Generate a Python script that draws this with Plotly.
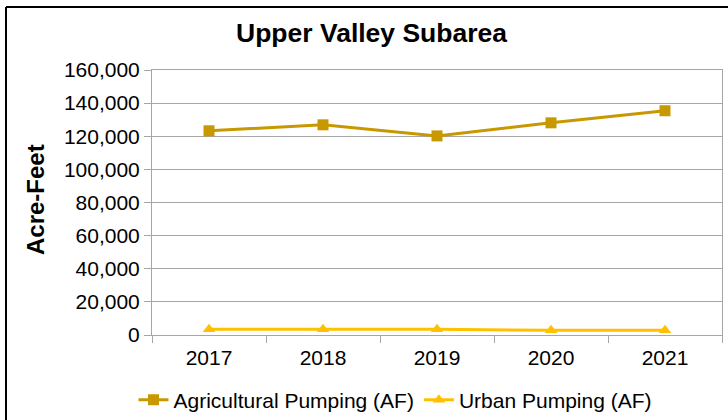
import plotly.graph_objects as go

years = ["2017", "2018", "2019", "2020", "2021"]
ag_pumping = [123300, 126900, 120200, 128100, 135400]
urban_pumping = [3500, 3500, 3400, 2900, 2900]
y_ticks = [0, 20000, 40000, 60000, 80000, 100000, 120000, 140000, 160000]

AG_COLOR = "#C89800"
URB_COLOR = "#FFC000"
GRID = "#A6A6A6"
FONT = "Liberation Sans, Arial, sans-serif"

fig = go.Figure()
fig.add_trace(go.Scatter(
    x=years, y=ag_pumping, name="Agricultural Pumping (AF)", mode="lines+markers",
    line=dict(color=AG_COLOR, width=3),
    marker=dict(symbol="square", size=11, color=AG_COLOR),
))
fig.add_trace(go.Scatter(
    x=years, y=urban_pumping, name="Urban Pumping (AF)", mode="lines+markers",
    line=dict(color=URB_COLOR, width=3),
    marker=dict(symbol="triangle-up", size=11, color=URB_COLOR),
))

W, H = 728, 420
L, R, T, B = 152, 6, 70, 85
pw, ph = W - L - R, H - T - B

def px_x(p):
    return (p - L) / pw

def px_y(p):
    return (H - B - p) / ph

fig.update_layout(
    width=W, height=H,
    margin=dict(l=L, r=R, t=T, b=B, autoexpand=False),
    paper_bgcolor="white", plot_bgcolor="white",
    font=dict(family=FONT, size=21, color="black"),
    showlegend=True,
    legend=dict(orientation="h", xref="container", yref="container",
                x=395 / W, xanchor="center", y=1 - 400 / H, yanchor="middle",
                font=dict(size=21), tracegroupgap=0, bgcolor="rgba(0,0,0,0)"),
    xaxis=dict(
        type="category", tickvals=years, ticktext=years, tickangle=0,
        range=[-0.5, len(years) - 0.5],
        showline=True, linecolor=GRID, linewidth=1, mirror=True,
        ticks="outside", ticklen=7, tickcolor=GRID, tickson="boundaries",
        showgrid=False, tickfont=dict(size=21), automargin=False,
        ticklabelstandoff=4,
    ),
    yaxis=dict(
        range=[0, 160000], tickvals=y_ticks,
        tickformat=",d", showline=True, linecolor=GRID, linewidth=1, mirror=True,
        ticks="outside", ticklen=7, tickcolor=GRID,
        showgrid=True, gridcolor=GRID, gridwidth=1, zeroline=False,
        tickfont=dict(size=21), automargin=False,
    ),
    annotations=[
        dict(text="<b>Upper Valley Subarea</b>", xref="paper", yref="paper",
             x=px_x(371), y=px_y(33), xanchor="center", yanchor="middle",
             showarrow=False, font=dict(size=26.5, family=FONT)),
        dict(text="<b>Acre-Feet</b>", xref="paper", yref="paper",
             x=px_x(35), y=px_y(200), xanchor="center", yanchor="middle",
             textangle=-90, showarrow=False, font=dict(size=24, family=FONT)),
    ],
    shapes=[
        dict(type="line", xref="paper", yref="paper", x0=px_x(6), x1=px_x(728),
             y0=px_y(7), y1=px_y(7), line=dict(color="black", width=2)),
        dict(type="line", xref="paper", yref="paper", x0=px_x(6), x1=px_x(6),
             y0=px_y(7), y1=px_y(421), line=dict(color="black", width=2)),
    ],
)

fig.write_html("out.html", config={"displayModeBar": False},
               post_script="document.body.style.margin='0';")
